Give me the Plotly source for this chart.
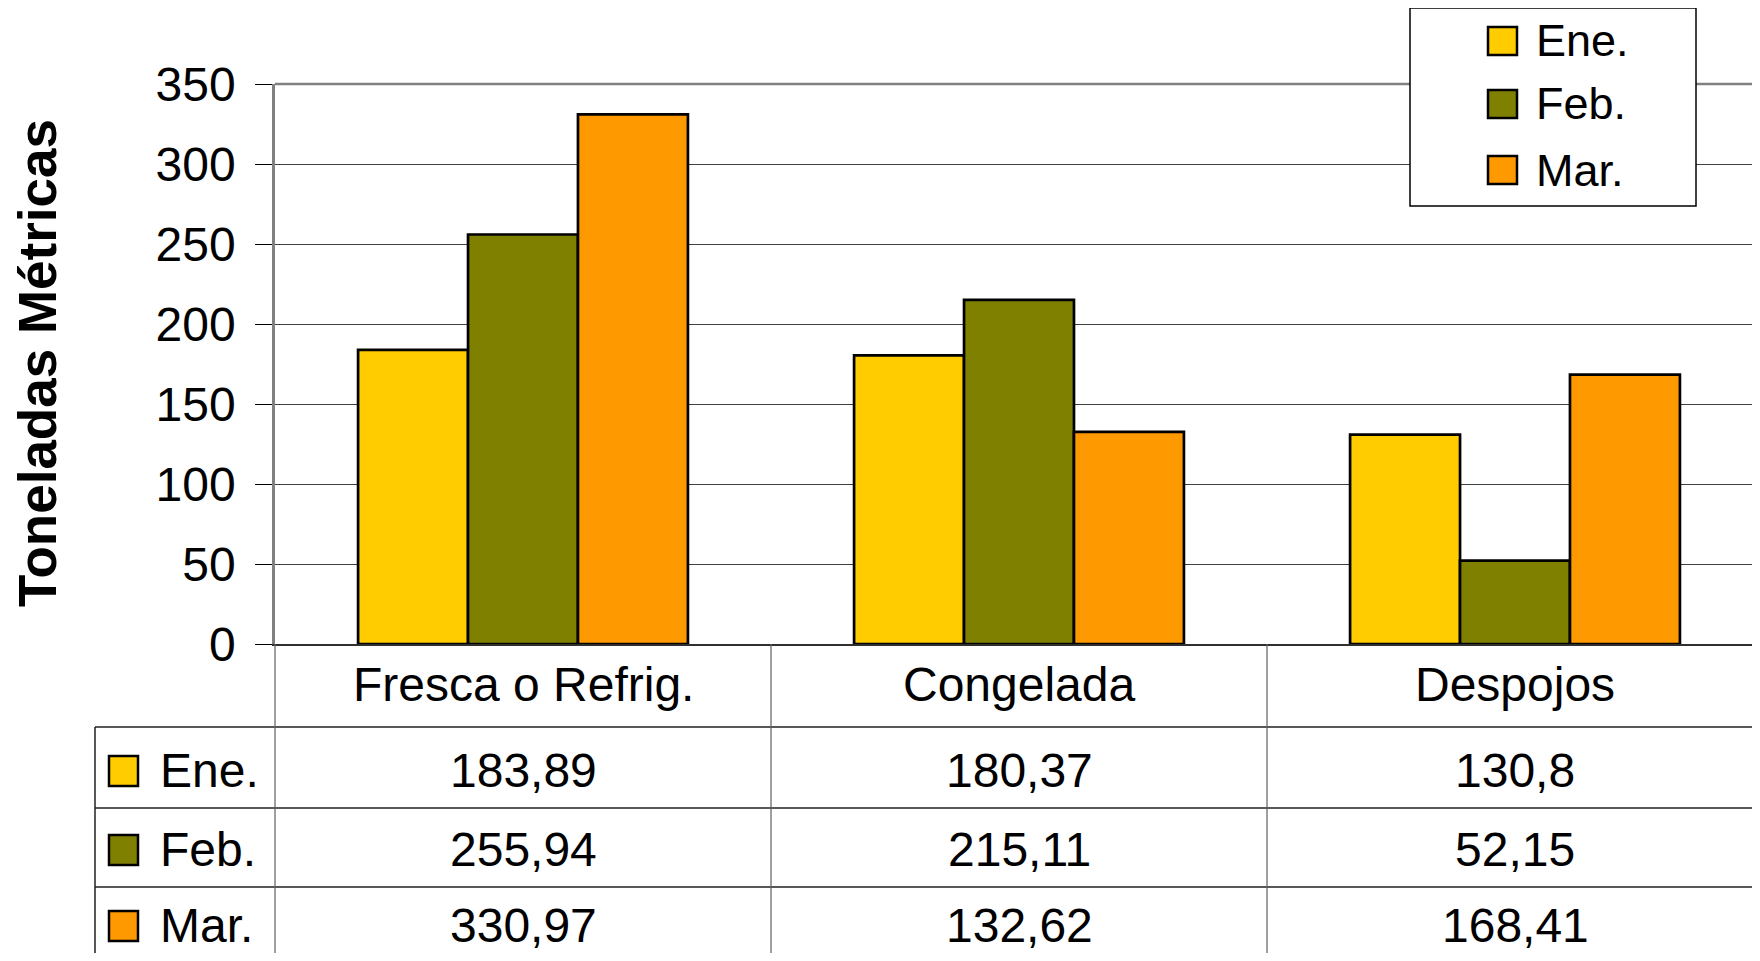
import plotly.graph_objects as go

categories = ["Fresca o Refrig.", "Congelada", "Despojos"]
months = ["Ene.", "Feb.", "Mar."]
ene = [183.89, 180.37, 130.8]
feb = [255.94, 215.11, 52.15]
mar = [330.97, 132.62, 168.41]
y_ticks = [0, 50, 100, 150, 200, 250, 300, 350]

colors = ["#FFCC00", "#808000", "#FF9900"]
series = [ene, feb, mar]

# the page body has an 8px margin, so the figure is sized to fit the window exactly
OFF = 8
W, H = 1760 - 2 * OFF, 961 - 2 * OFF
FONT = "Liberation Sans, Arial, sans-serif"


def px(x):
    return (x - OFF) / W


def py(y):
    return 1 - (y - OFF) / H


fig = go.Figure()
for name, vals, col in zip(months, series, colors):
    fig.add_trace(go.Bar(
        x=categories, y=vals, name=name,
        marker=dict(color=col, line=dict(color="black", width=2.7)),
        showlegend=False,
    ))

shapes = []
annotations = []

# top border of plot area
shapes.append(dict(type="line", xref="paper", yref="paper",
                   x0=px(275), x1=1, y0=py(84), y1=py(84),
                   line=dict(color="#808080", width=2.5), layer="below"))

# data table under the chart
row_lines = [727, 808, 887]
for yl in row_lines:
    shapes.append(dict(type="line", xref="paper", yref="paper",
                       x0=px(95), x1=1, y0=py(yl), y1=py(yl),
                       line=dict(color="#202020", width=1.5)))
shapes.append(dict(type="line", xref="paper", yref="paper",
                   x0=px(95), x1=px(95), y0=py(727), y1=0,
                   line=dict(color="#202020", width=1.5)))
for xl in [275, 771, 1267]:
    shapes.append(dict(type="line", xref="paper", yref="paper",
                       x0=px(xl), x1=px(xl), y0=py(644), y1=0,
                       line=dict(color="#606060", width=1.2)))

for cat in categories:
    annotations.append(dict(x=cat, xref="x", y=py(684), yref="paper",
                            text=cat, showarrow=False, yanchor="middle",
                            font=dict(size=48, color="black", family=FONT)))

row_centers = [770, 849, 925]
for name, vals, col, yc in zip(months, series, colors, row_centers):
    shapes.append(dict(type="rect", xref="paper", yref="paper",
                       x0=px(109), x1=px(138), y0=py(yc - 14), y1=py(yc + 16),
                       fillcolor=col, line=dict(color="black", width=2.5)))
    annotations.append(dict(x=px(158), xref="paper", y=py(yc), yref="paper",
                            text=name, showarrow=False, xanchor="left", yanchor="middle",
                            font=dict(size=48, color="black", family=FONT)))
    for cat, v in zip(categories, vals):
        annotations.append(dict(x=cat, xref="x", y=py(yc), yref="paper",
                                text=f"{v:g}".replace(".", ","), showarrow=False,
                                yanchor="middle",
                                font=dict(size=48, color="black", family=FONT)))

# legend box
shapes.append(dict(type="rect", xref="paper", yref="paper",
                   x0=px(1410), x1=px(1696), y0=py(8), y1=py(206),
                   fillcolor="white", line=dict(color="black", width=1.5)))
for name, col, yc in zip(months, colors, [41, 104, 170]):
    shapes.append(dict(type="rect", xref="paper", yref="paper",
                       x0=px(1488), x1=px(1517), y0=py(yc - 14), y1=py(yc + 14),
                       fillcolor=col, line=dict(color="black", width=2.5)))
    annotations.append(dict(x=px(1534), xref="paper", y=py(yc), yref="paper",
                            text=name, showarrow=False, xanchor="left", yanchor="middle",
                            font=dict(size=45, color="black", family=FONT)))

# y axis title
annotations.append(dict(x=px(38), xref="paper", y=py(363), yref="paper",
                        text="<b>Toneladas Métricas</b>", textangle=-90, showarrow=False,
                        xanchor="center", yanchor="middle",
                        font=dict(size=53, color="black", family=FONT)))

# each category column is 496px wide; the plot runs off the right edge
x_right = -0.5 + (1760 - OFF - 275) / 496

fig.update_layout(
    width=W, height=H,
    margin=dict(l=0, r=0, t=0, b=0, autoexpand=False),
    paper_bgcolor="white", plot_bgcolor="white",
    barmode="group", bargap=0.335, bargroupgap=0,
    font=dict(family=FONT, color="black"),
    xaxis=dict(
        type="category", domain=[px(275), 1], range=[-0.5, x_right],
        showticklabels=False, ticks="", showgrid=False, automargin=False,
        showline=True, linecolor="#303030", linewidth=2,
    ),
    yaxis=dict(
        domain=[py(644), py(84)], range=[0, 350], automargin=False,
        tickvals=y_ticks, ticks="outside", ticklen=17, tickcolor="black", tickwidth=1,
        showline=True, linecolor="#808080", linewidth=2.5,
        showgrid=True, gridcolor="#404040", gridwidth=1, zeroline=False,
        tickfont=dict(size=48, color="black", family=FONT),
        ticklabelstandoff=10,
    ),
    shapes=shapes,
    annotations=annotations,
)

fig.write_html("out.html")
